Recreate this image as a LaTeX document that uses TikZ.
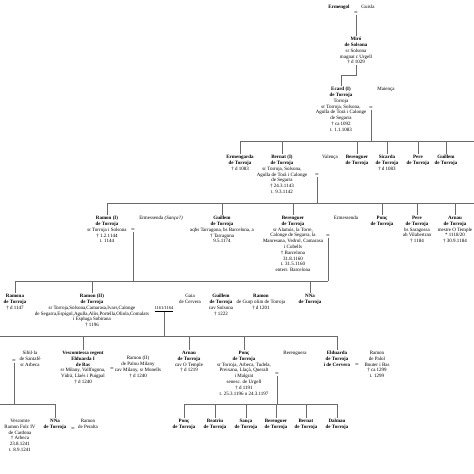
\documentclass[tikz,border=0pt]{standalone}
\usepackage{fontspec}
\setmainfont{Liberation Serif}
\newcommand\pfont{\fontsize{5}{5.8}\selectfont}
\definecolor{linegray}{HTML}{6A6A6A}
\tikzset{
  pers/.style={anchor=north, inner sep=0.6pt, align=center, font=\pfont},
  mar/.style={inner sep=0pt, font=\fontsize{6.5}{6.5}\selectfont},
  conn/.style={draw=linegray, line width=0.6pt},
}
\begin{document}
\begin{tikzpicture}[x=1pt,y=-1pt]
\fill[white] (0,0) rectangle (474,474);
\useasboundingbox (0,0) rectangle (474,474);

% ---------- level 0 / 1
\node[pers] (ermengol) at (339,4.4) {\textbf{Ermengol}};
\node[pers] (guisla) at (368,4.4) {Guisla};
\node[mar] (m0) at (356,13) {=};
\node[pers] (miro) at (356,36.4) {\textbf{Miró}\\\textbf{de Solsona}\\sr Solsona\\magnat c Urgell\\† d 1029};
\coordinate (j1) at (0,75);
\node[pers] (ecard) at (341,86.4) {\textbf{Ecard (I)}\\\textbf{de Torroja}\\Torroja\\sr Torroja, Solsona,\\Agulla de Torà i Calonge\\de Segarra\\† ca 1092\\t. 1.1.1083};
\node[pers] (maienca) at (386,86.4) {Maiença};
\node[mar] (m1) at (371,108) {=};

% ---------- level 2
\node[pers] (ermengarda) at (240,154.4) {\textbf{Ermengarda}\\\textbf{de Torroja}\\† d 1083};
\node[pers] (bernat) at (282,154.4) {\textbf{Bernat (I)}\\\textbf{de Torroja}\\sr Torroja, Solsona,\\Agulla de Torà i Calonge\\de Segarra\\† 24.3.1143\\t. 9.3.1142};
\node[pers] (valenca) at (330,154.4) {Valença};
\node[pers] (berenguerA) at (357,154.4) {\textbf{Berenguer}\\\textbf{de Torroja}};
\node[pers] (sicarda) at (387,154.4) {\textbf{Sicarda}\\\textbf{de Torroja}\\† d 1083};
\node[pers] (pereA) at (418,154.4) {\textbf{Pere}\\\textbf{de Torroja}};
\node[pers] (guillemA) at (446,154.4) {\textbf{Guillem}\\\textbf{de Torroja}};
\node[mar] (m2) at (317,175) {=};

% ---------- level 3
\node[pers] (ramon1) at (107,215.4) {\textbf{Ramon (I)}\\\textbf{de Torroja}\\sr Torroja i Solsona\\† 1.2.1144\\t. 1144};
\node[pers] (ermessenda1) at (161,215.4) {Ermessenda \textit{(Sança?)}};
\node[mar] (m3) at (133,230) {=};
\node[pers] (guillemB) at (222,215.4) {\textbf{Guillem}\\\textbf{de Torroja}\\aqbs Tarragona, bs Barcelona, a\\† Tarragona\\9.5.1174};
\node[pers] (berenguerB) at (293,215.4) {\textbf{Berenguer}\\\textbf{de Torroja}\\sr Alamús, la Torre,\\Calonge de Segarra, la\\Manresana, Vedrol, Camarasa\\i Cubells\\† Barcelona\\31.8.1160\\t. 31.5.1160\\enterr. Barcelona};
\node[pers] (ermessenda2) at (346,215.4) {Ermessenda};
\node[mar] (m4) at (328,236) {=};
\node[pers] (poncA) at (382,215.4) {\textbf{Ponç}\\\textbf{de Torroja}};
\node[pers] (pereB) at (417,215.4) {\textbf{Pere}\\\textbf{de Torroja}\\bs Saragossa\\ab Vilabertran\\† 1184};
\node[pers] (arnauA) at (455,215.4) {\textbf{Arnau}\\\textbf{de Torroja}\\mestre O Temple\\* 1118/20\\† 30.9.1184};

% ---------- level 4
\node[pers] (ramona) at (15,293.4) {\textbf{Ramona}\\\textbf{de Torroja}\\† d 1147};
\node[pers] (ramon2) at (92,293.4) {\textbf{Ramon (II)}\\\textbf{de Torroja}\\sr Torroja,Solsona,Camarasa,Ivars,Calonge\\de Segarra,Espígol,Agulla,Alòs,Portella,Oliola,Comalats\\i Espluga Sobirana\\† 1196};
\node[pers] (gaia) at (190,293.4) {Gaia\\de Cervera};
\node[inner sep=0.6pt, font=\fontsize{4.5}{5}\selectfont] (m5) at (164,309) {\underline{1161/1164}};
\node[pers] (guillemC) at (221,293.4) {\textbf{Guillem}\\\textbf{de Torroja}\\cav Solsona\\† 1222};
\node[pers] (ramongurp) at (261,293.4) {\textbf{Ramon}\\de Gurp olim de Torroja\\† d 1201};
\node[pers] (nna1) at (310,293.4) {\textbf{NNa}\\\textbf{de Torroja}};

% ---------- level 5
\node[pers] (sibila) at (30,350.4) {Sibil·la\\de Santafè\\sr Arbeca};
\node[mar] (m6) at (14,361) {=};
\node[pers] (elduarda1) at (83,350.4) {\textbf{Vescomtessa regent}\\\textbf{Elduarda I}\\\textbf{de Bas}\\sr Milany, Vallfogona,\\Vidrà, Llaés i Puigpal\\† d 1240};
\node[mar] (m7) at (112,369) {=};
\node[pers] (ramonpalou) at (138,355.4) {Ramon (II)\\de Palou Milany\\cav Milany, sr Monells\\† d 1240};
\node[pers] (arnauB) at (189,350.4) {\textbf{Arnau}\\\textbf{de Torroja}\\cav O Temple\\† d 1219};
\node[pers] (poncB) at (244,350.4) {\textbf{Ponç}\\\textbf{de Torroja}\\sr Torroja, Arbeca, Tudela,\\Preixana, Llaçà, Queralt\\i Malgrat\\senesc. de Urgell\\† d 1191\\t. 25.3.1196 o 24.3.1197};
\node[pers] (berenguera) at (295,350.4) {Berenguera};
\node[mar] (m8) at (277,374) {=};
\node[pers] (elduarda2) at (337,350.4) {\textbf{Elduarda}\\\textbf{de Torroja}\\\textbf{i de Cervera}};
\node[mar] (m9) at (357,365) {=};
\node[pers] (ramonpalol) at (377,350.4) {Ramon\\de Palol\\Bouter i Bas\\† ca 1299\\t. 1299};

% ---------- level 6
\node[pers] (vescomte) at (20,418.4) {Vescomte\\Ramon Folc IV\\de Cardona\\† Arbeca\\23.8.1241\\t. 8.9.1241};
\node[pers] (nna2) at (55,418.4) {\textbf{NNa}\\\textbf{de Torroja}};
\node[mar] (m10) at (73,429) {=};
\node[pers] (peralta) at (88,418.4) {Ramon\\de Peralta};
\node[pers] (poncC) at (184,418.4) {\textbf{Ponç}\\\textbf{de Torroja}};
\node[pers] (beatriu) at (215,418.4) {\textbf{Beatriu}\\\textbf{de Torroja}};
\node[pers] (sanca) at (246,418.4) {\textbf{Sança}\\\textbf{de Torroja}};
\node[pers] (berenguerC) at (276,418.4) {\textbf{Berenguer}\\\textbf{de Torroja}};
\node[pers] (bernatC) at (306,418.4) {\textbf{Bernat}\\\textbf{de Torroja}};
\node[pers] (dalmau) at (337,418.4) {\textbf{Dalmau}\\\textbf{de Torroja}};

% ---------- connectors
\draw[conn] (m0.south) -- (miro.north);
\draw[conn] (miro.south) -- (miro.south |- j1) -| (ecard.north);

\coordinate (b2) at (0,141);
\coordinate (b2e) at (474,141);
\draw[conn] (m1.south) -- (m1.south |- b2);
\draw[conn] (ermengarda.north |- b2) -- (b2e);
\foreach \c in {ermengarda,bernat,berenguerA,sicarda,pereA,guillemA}
  \draw[conn] (\c.north |- b2) -- (\c.north);

\coordinate (b3) at (0,203);
\coordinate (b3e) at (474,203);
\draw[conn] (m2.south) -- (m2.south |- b3);
\draw[conn] (ramon1.north |- b3) -- (b3e);
\foreach \c in {ramon1,guillemB,berenguerB,poncA,pereB,arnauA}
  \draw[conn] (\c.north |- b3) -- (\c.north);

\coordinate (b4) at (0,281);
\draw[conn] (m3.south) -- (m3.south |- b4);
\draw[conn] (m4.south) -- (m4.south |- b4);
\draw[conn] (ramona.north |- b4) -- (m4.south |- b4);
\foreach \c in {ramona,ramon2,nna1}
  \draw[conn] (\c.north |- b4) -- (\c.north);

\coordinate (b5) at (0,336);
\draw[conn] (m5.south) -- (m5.south |- b5);
\draw[conn] (b5) -- (elduarda2.north |- b5);
\foreach \c in {elduarda1,arnauB,poncB,elduarda2}
  \draw[conn] (\c.north |- b5) -- (\c.north);

\coordinate (b6) at (0,404);
\draw[conn] (m6.south) -- (m6.south |- b6);
\draw[conn] (b6) -- (nna2.north |- b6) -- (nna2.north);

\draw[conn] (m8.south) -- (m8.south |- b6);
\draw[conn] (poncC.north |- b6) -- (dalmau.north |- b6);
\foreach \c in {poncC,beatriu,sanca,berenguerC,bernatC,dalmau}
  \draw[conn] (\c.north |- b6) -- (\c.north);
\end{tikzpicture}
\end{document}
